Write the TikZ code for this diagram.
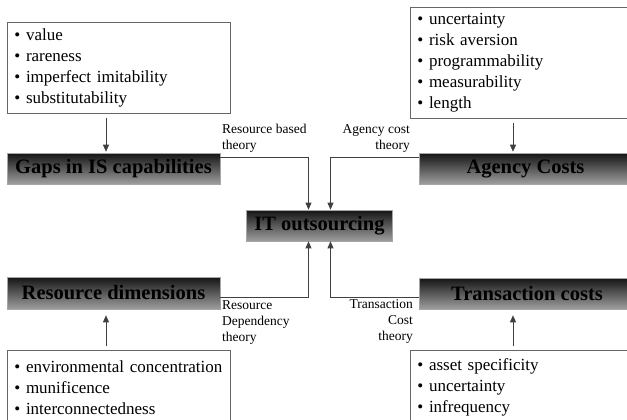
\documentclass[tikz,border=0pt]{standalone}
\usepackage{fontspec}
\setmainfont{Liberation Serif}
\usetikzlibrary{arrows.meta,positioning}

\begin{document}
\begin{tikzpicture}[x=1pt,y=-1pt,
                listbox/.style={draw=black!60,line width=0.8pt,fill=white,align=left,inner xsep=7pt,inner ysep=0pt,anchor=north west,font=\fontsize{17}{21}\selectfont},
                titlebox/.style={draw=black!35,line width=0.6pt,top color=black!92,bottom color=black!38,minimum height=31pt,inner sep=0pt,font=\fontsize{20.5}{24}\selectfont\bfseries},
                theory/.style={inner sep=1pt,font=\fontsize{13.5}{16}\selectfont},
                link/.style={draw=black!75,line width=0.7pt,-{Triangle[length=7pt,width=6pt]}},
            ]
                \useasboundingbox (0,0) rectangle (627,420);
                \clip (0,0) rectangle (627,420);

                \node[listbox,text width=209pt,minimum height=91pt] (rbvlist) at (7,22) {\textbullet\ value\\\textbullet\ rareness\\\textbullet\ imperfect imitability\\\textbullet\ substitutability};
                \node[listbox,text width=226pt,minimum height=111pt] (aclist) at (410,7) {\textbullet\ uncertainty\\\textbullet\ risk aversion\\\textbullet\ programmability\\\textbullet\ measurability\\\textbullet\ length};
                \node[listbox,text width=209pt,minimum height=74pt] (rdlist) at (7,350) {\textbullet\ environmental concentration\\\textbullet\ munificence\\\textbullet\ interconnectedness};
                \node[listbox,text width=226pt,minimum height=74pt] (tclist) at (410,350) {\textbullet\ asset specificity\\\textbullet\ uncertainty\\\textbullet\ infrequency};

                \node[titlebox,minimum width=213pt] (gaps) at (113.5,168.5) {Gaps in IS capabilities};
                \node[titlebox,minimum width=213pt] (agency) at (525.5,168.5) {Agency Costs};
                \node[titlebox,minimum width=146pt] (it) at (319.5,225.5) {IT outsourcing};
                \node[titlebox,minimum width=213pt,minimum height=32pt] (resdim) at (113.5,293) {Resource dimensions};
                \node[titlebox,minimum width=216pt] (trans) at (527,293.5) {Transaction costs};

                \node[theory,anchor=north west,align=left] (lblrbv) at (221,123) {Resource based\\theory};
                \node[theory,anchor=north east,align=right] (lblac) at (411,123) {Agency cost\\theory};
                \node[theory,anchor=north west,align=left] (lblrd) at (221,299) {Resource\\Dependency\\theory};
                \node[theory,anchor=north east,align=right] (lbltc) at (414,298) {Transaction\\Cost\\theory};

% theories into IT outsourcing
                \draw[link] ([yshift=-5pt]gaps.north east) -| ([xshift=-11pt]it.north);
                \draw[link] ([yshift=-5pt]agency.north west) -| ([xshift=11pt]it.north);
                \draw[link] ([yshift=12pt]resdim.south east) -| ([xshift=-11pt]it.south);
                \draw[link] ([yshift=12pt]trans.south west) -| ([xshift=11pt]it.south);

% lists into their boxes
                \draw[link,shorten <=4pt,shorten >=1pt] ([xshift=-7.5pt]gaps.north |- rbvlist.south) -- ([xshift=-7.5pt]gaps.north);
                \draw[link,shorten <=4pt,shorten >=1pt] ([xshift=-12.5pt]agency.north |- aclist.south) -- ([xshift=-12.5pt]agency.north);
                \draw[link,shorten <=4pt,shorten >=6pt] ([xshift=-7.5pt]resdim.south |- rdlist.north) -- ([xshift=-7.5pt]resdim.south);
                \draw[link,shorten <=4pt,shorten >=6pt] ([xshift=-14pt]trans.south |- tclist.north) -- ([xshift=-14pt]trans.south);
            \end{tikzpicture}
\end{document}
